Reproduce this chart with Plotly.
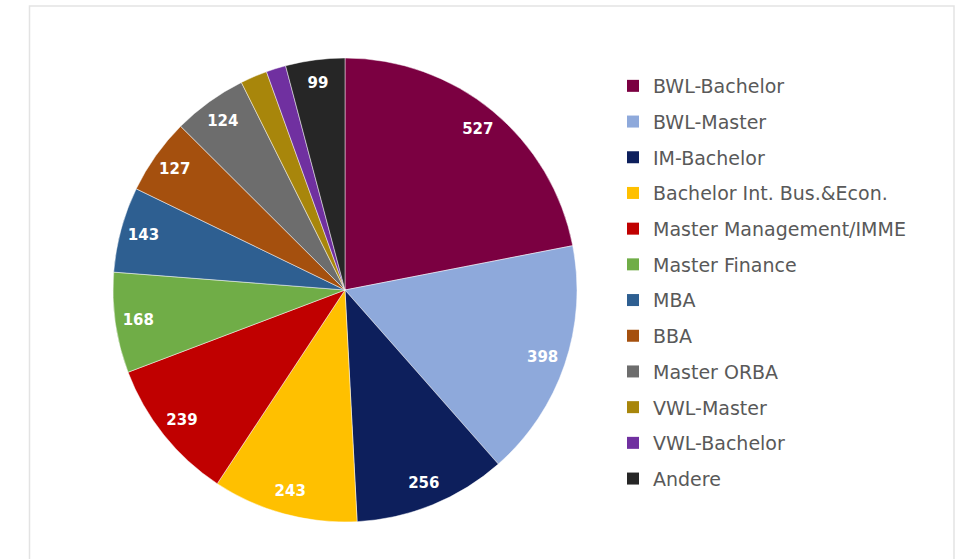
import plotly.graph_objects as go

labels = ["BWL-Bachelor", "BWL-Master", "IM-Bachelor", "Bachelor Int. Bus.&Econ.",
          "Master Management/IMME", "Master Finance", "MBA", "BBA", "Master ORBA",
          "VWL-Master", "VWL-Bachelor", "Andere"]
values = [527, 398, 256, 243, 239, 168, 143, 127, 124, 45, 33, 99]
show_label = [True, True, True, True, True, True, True, True, True, False, False, True]
colors = ["#7B0041", "#8EA9DB", "#0D1F5C", "#FFC000", "#C00000", "#70AD47",
          "#2E5F91", "#A5500E", "#6D6D6D", "#A8860B", "#7030A0", "#262626"]

texts = [str(v) if s else "" for v, s in zip(values, show_label)]

W, H = 958, 559
dom = dict(x=[113/W, 577/W], y=[1-522/H, 1-58/H])

fig = go.Figure()
# coloured pie (no text, no legend)
fig.add_trace(go.Pie(
    labels=labels, values=values, textinfo="none",
    sort=False, direction="clockwise", rotation=0,
    marker=dict(colors=colors, line=dict(color="rgba(255,255,255,0.6)", width=0.8)),
    domain=dom, showlegend=False, hoverinfo="label+value",
))
# transparent ring carrying the value labels near the rim
fig.add_trace(go.Pie(
    labels=labels, values=values, text=texts, textinfo="text",
    sort=False, direction="clockwise", rotation=0, hole=0.8,
    marker=dict(colors=["rgba(0,0,0,0)"] * len(values), line=dict(width=0)),
    textposition="inside", insidetextorientation="horizontal",
    textfont=dict(family="DejaVu Sans", size=15, color="white", weight="bold"),
    domain=dom, showlegend=False, hoverinfo="skip",
))
# legend entries
for lab, col in zip(labels, colors):
    fig.add_trace(go.Scatter(
        x=[None], y=[None], mode="markers", name=lab, legendgroup=lab,
        marker=dict(symbol="square", size=9, color=col),
    ))

fig.update_layout(
    width=W, height=H,
    margin=dict(l=0, r=0, t=0, b=0),
    paper_bgcolor="white", plot_bgcolor="white",
    xaxis=dict(visible=False), yaxis=dict(visible=False),
    font=dict(family="DejaVu Sans", color="#595959"),
    legend=dict(x=613/W, y=1-67/H, xanchor="left", yanchor="top",
                font=dict(size=19, color="#595959", family="DejaVu Sans"),
                traceorder="grouped", tracegroupgap=8, itemsizing="constant"),
    shapes=[dict(type="rect", xref="paper", yref="paper",
                 x0=29.5/W, x1=954/W, y0=-0.02, y1=1-6/H,
                 line=dict(color="#E3E3E3", width=1.5))],
)

fig.write_html("out.html", config={"displayModeBar": False},
               post_script="document.body.style.margin='0';")
